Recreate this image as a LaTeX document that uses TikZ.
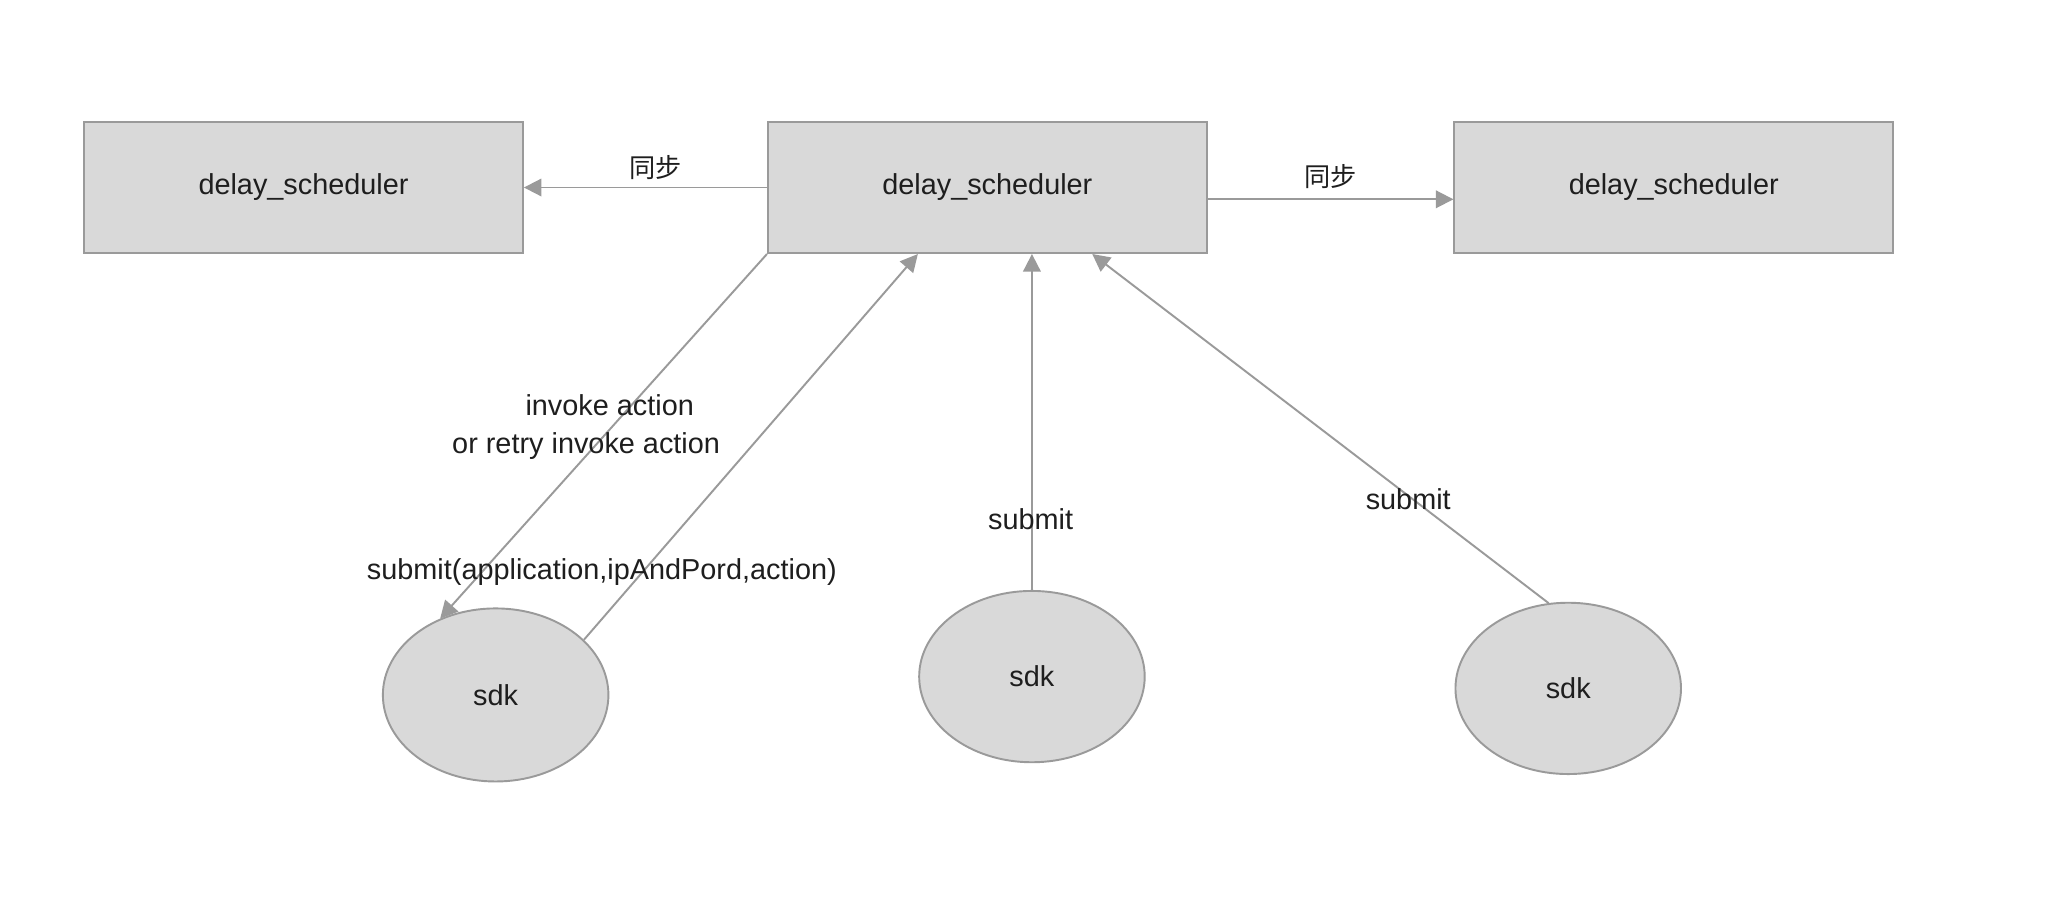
\documentclass[tikz,border=0pt]{standalone}
\usepackage{fontspec}
\setmainfont{Liberation Sans}
\newfontfamily\cjk{Noto Sans CJK SC}
\usetikzlibrary{shapes.geometric,arrows.meta,calc}

\definecolor{boxfill}{HTML}{D9D9D9}
\definecolor{linegray}{HTML}{9A9A9A}
\definecolor{txt}{HTML}{1E1E1E}

\tikzset{every picture/.style={line width=0.75pt}}

\begin{document}
\begin{tikzpicture}[x=0.75pt,y=0.75pt,yscale=-1,xscale=1,
  sched/.style={draw=linegray,line width=1.1pt,fill=boxfill,inner sep=0pt,
    minimum width=251pt,minimum height=75pt,text=txt,font=\fontsize{16.5}{19}\selectfont},
  sdk/.style={ellipse,draw=linegray,line width=1.1pt,fill=boxfill,inner sep=0pt,
    minimum width=129pt,minimum height=98pt,text=txt,font=\fontsize{16.5}{19}\selectfont},
  link/.style={draw=linegray,line width=1.1pt,-{Triangle[length=10pt,width=10pt]}},
  lbl/.style={text=txt,inner sep=0pt,font=\fontsize{16.5}{19}\selectfont},
  sync/.style={text=txt,inner sep=0pt,font=\cjk\fontsize{15}{18}\selectfont}]
\useasboundingbox[fill=white] (0,0) rectangle (1568,685);

% Scheduler boxes
\node[sched] (schedL) at (231.5,143) {delay\_scheduler};
\node[sched] (schedM) at (753,143) {delay\_scheduler};
\node[sched] (schedR) at (1276.5,143) {delay\_scheduler};

% sdk clients
\node[sdk,minimum height=99pt] (sdkA) at (378,530) {sdk};
\node[sdk] (sdkB) at (787,516) {sdk};
\node[sdk] (sdkC) at (1196,525) {sdk};

% Sync between schedulers
\draw[link] (schedM.west) -- (schedL.east);
\node[sync] (syncL) at (500,128) {同步};
\coordinate (outR) at ($(schedM.east)+(0,9)$);
\draw[link] (outR) -- (outR -| schedR.west);
\node[sync] (syncR) at (1015,135) {同步};

% Invoke and submit
\draw[link] (schedM.south west) -- (sdkA.126);
\coordinate (inA) at ($(schedM.south)+(-53,0)$);
\draw[link] (sdkA.32) -- (inA);
\draw[link] (sdkB.north) -- (schedM.south -| sdkB.north);
\coordinate (inC) at ($(schedM.south)+(80,0)$);
\draw[link] (sdkC.103) -- (inC);

% Labels
\node[lbl] (invA) at (465,309) {invoke action};
\node[lbl] (invB) at (447,340) {or retry invoke action};
\node[lbl] (subA) at (459,436) {submit(application,ipAndPord,action)};
\node[lbl] (subB) at (786,396) {submit};
\node[lbl] (subC) at (1074,381) {submit};

\end{tikzpicture}
\end{document}
